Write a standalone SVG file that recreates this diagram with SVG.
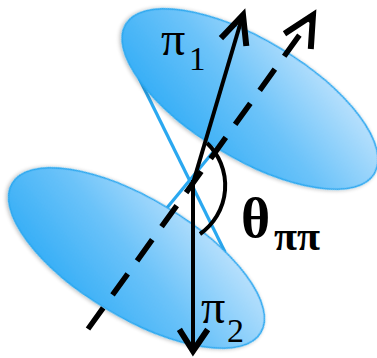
<svg xmlns="http://www.w3.org/2000/svg" width="377" height="358" viewBox="0 0 377 358">
<defs>
<linearGradient id="g" x1="0.15" y1="1" x2="0.95" y2="0.1">
<stop offset="0" stop-color="#2eabf6"/>
<stop offset="0.5" stop-color="#6cc3f9"/>
<stop offset="1" stop-color="#c4e5fd"/>
</linearGradient>
<filter id="sh" x="-10%" y="-20%" width="120%" height="140%">
<feGaussianBlur in="SourceAlpha" stdDeviation="2"/>
<feOffset dx="-1" dy="1" result="b"/>
<feComponentTransfer><feFuncA type="linear" slope="0.3"/></feComponentTransfer>
<feMerge><feMergeNode/><feMergeNode in="SourceGraphic"/></feMerge>
</filter>
</defs>
<style>
.pl{fill:url(#g);stroke:#2aa8f0;stroke-width:1.6;filter:url(#sh)}
.tan{stroke:#2aa8f0;stroke-width:3.2;fill:none}
.ax{stroke:#000;stroke-width:4;fill:none}
.hd{stroke:#000;stroke-width:6;fill:none;stroke-linejoin:miter;stroke-linecap:square}
.t{font-family:"Liberation Serif","Times New Roman",serif;fill:#000}
</style>
<g id="tangents">
<line class="tan" x1="139" y1="78" x2="225" y2="252"/>
<line class="tan" x1="218" y1="146" x2="166" y2="209"/>
</g>
<g id="plane2">
<ellipse class="pl" cx="136.5" cy="258" rx="145" ry="59" transform="rotate(31 136.5 258)"/>
</g>
<g id="plane1">
<ellipse class="pl" cx="250" cy="99" rx="145" ry="59" transform="rotate(31 250 99)"/>
</g>
<g id="connectors">
<line x1="88" y1="329" x2="311" y2="19" stroke="#000" stroke-width="5.5" stroke-dasharray="26 16"/>
<polyline class="hd" points="287,32 313,15 311,46"/>
<line class="ax" x1="193" y1="183" x2="242" y2="18"/>
<polyline class="hd" points="223,36 243,15 246,43"/>
<line class="ax" x1="193" y1="180" x2="193" y2="350"/>
<polyline class="hd" points="181,332 193,351 206,332"/>
<path class="ax" d="M207,143 A59,59 0 0 1 200,234" stroke-width="4.5"/>
</g>
<g id="labels">
<text class="t" x="161" y="55" font-size="48">π<tspan font-size="33" x="189" y="70">1</tspan></text>
<text class="t" x="241" y="237" font-size="56" font-weight="bold">θ<tspan font-size="42" x="274" y="250">ππ</tspan></text>
<text class="t" x="201" y="323" font-size="48">π<tspan font-size="34" x="227" y="342">2</tspan></text>
</g>
</svg>
